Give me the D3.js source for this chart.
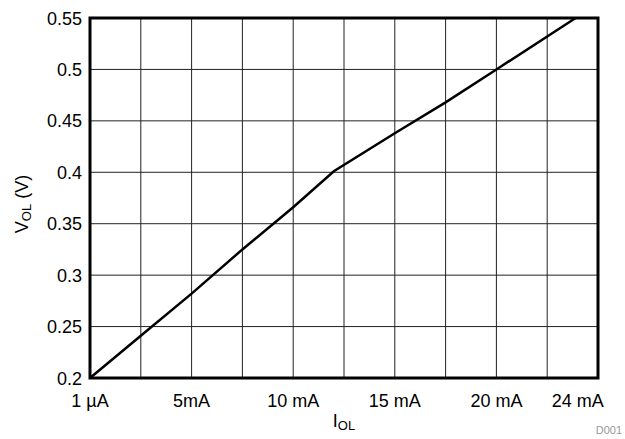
<!DOCTYPE html>
<html lang="en">
<head>
  <meta charset="UTF-8">
  <title>VOL vs IOL</title>
  <script src="https://cdn.jsdelivr.net/npm/d3@7"></script>
  <style>
    body { margin: 0; background: #fff; }
    text { font-family: "Liberation Sans", Arial, sans-serif; }
  </style>
</head>
<body>
  <script>
    // current in mA, voltage in V
    const iol = [0, 2.5, 5, 7.5, 10, 12, 15, 17.5, 20, 23.9];
    const vol = [0.2, 0.241, 0.282, 0.325, 0.366, 0.401, 0.438, 0.468, 0.5, 0.55];

    const xTicks = [0, 5, 10, 15, 20, 24];
    const xTickLabels = ["1 \u00b5A", "5mA", "10 mA", "15 mA", "20 mA", "24 mA"];
    const xGrid = [2.5, 5, 7.5, 10, 12.5, 15, 17.5, 20, 22.5];
    const yTicks = [0.2, 0.25, 0.3, 0.35, 0.4, 0.45, 0.5, 0.55];

    const w = 625, h = 439;
    const plotL = 90, plotR = 598, plotT = 18, plotB = 378;

    const x = d3.scaleLinear().domain([0, 25]).range([plotL, plotR]);
    const y = d3.scaleLinear().domain([0.2, 0.55]).range([plotB, plotT]);

    const svg = d3.select("body").append("svg")
      .attr("width", w).attr("height", h);

    // grid
    svg.append("g").selectAll("line")
      .data(xGrid).enter().append("line")
      .attr("x1", d => x(d)).attr("x2", d => x(d))
      .attr("y1", plotT).attr("y2", plotB)
      .attr("stroke", "#222").attr("stroke-width", 1);

    svg.append("g").selectAll("line")
      .data(yTicks.slice(1, -1)).enter().append("line")
      .attr("x1", plotL).attr("x2", plotR)
      .attr("y1", d => y(d)).attr("y2", d => y(d))
      .attr("stroke", "#222").attr("stroke-width", 1);

    // y tick labels
    svg.append("g").selectAll("text")
      .data(yTicks).enter().append("text")
      .attr("x", plotL - 8).attr("y", d => y(d) + 6.5)
      .attr("text-anchor", "end").attr("font-size", 18)
      .text(d => d);

    // x tick labels
    svg.append("g").selectAll("text")
      .data(xTicks).enter().append("text")
      .attr("x", d => x(d)).attr("y", plotB + 29)
      .attr("text-anchor", "middle").attr("font-size", 18)
      .text((d, i) => xTickLabels[i]);

    // curve
    const pts = iol.map((d, i) => [d, vol[i]]);
    svg.append("path")
      .datum(pts)
      .attr("d", d3.line().x(d => x(d[0])).y(d => y(d[1])))
      .attr("fill", "none").attr("stroke", "#000").attr("stroke-width", 2.5);

    // frame
    svg.append("rect")
      .attr("x", plotL).attr("y", plotT)
      .attr("width", plotR - plotL).attr("height", plotB - plotT)
      .attr("fill", "none").attr("stroke", "#000").attr("stroke-width", 3);

    // axis titles
    const xt = svg.append("text")
      .attr("x", 344).attr("y", 427)
      .attr("text-anchor", "middle").attr("font-size", 18);
    xt.append("tspan").text("I");
    xt.append("tspan").attr("font-size", 13).attr("dy", 3).text("OL");

    const yt = svg.append("text")
      .attr("transform", "translate(28, 204) rotate(-90)")
      .attr("text-anchor", "middle").attr("font-size", 18);
    yt.append("tspan").text("V");
    yt.append("tspan").attr("font-size", 13).attr("dy", 3).text("OL");
    yt.append("tspan").attr("dy", -3).text(" (V)");

    svg.append("text")
      .attr("x", 622).attr("y", 434)
      .attr("text-anchor", "end").attr("font-size", 11)
      .attr("fill", "#999").text("D001");
  </script>
</body>
</html>
